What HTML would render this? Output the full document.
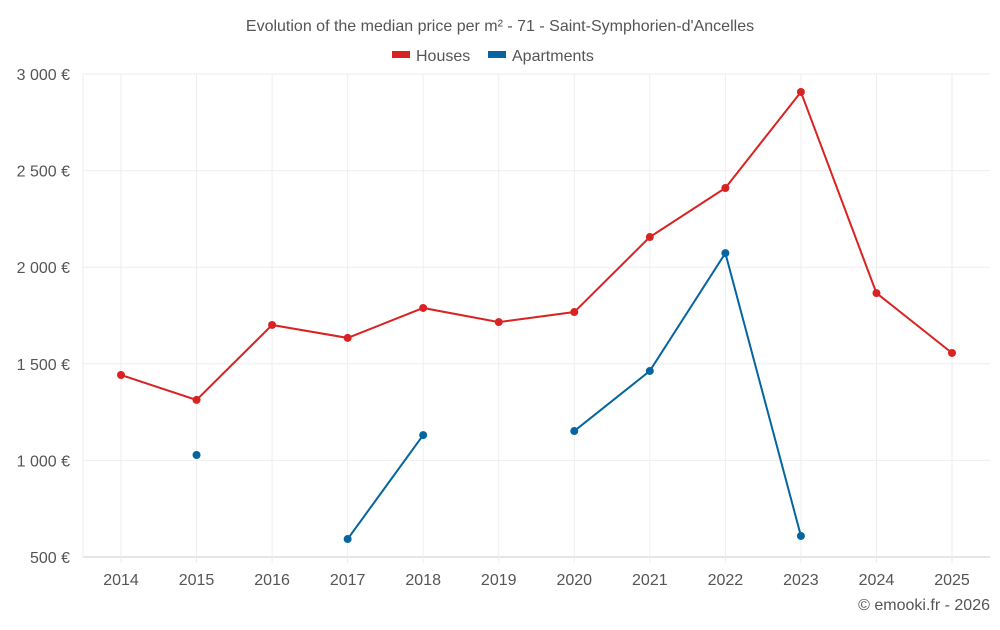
<!DOCTYPE html>
<html><head><meta charset="utf-8"><style>
body{margin:0;background:#fff;font-family:"Liberation Sans",sans-serif}
svg text{font-family:"Liberation Sans",sans-serif;fill:#555}
</style></head><body>
<svg id="c" width="1000" height="625">
<text x="500" y="31" text-anchor="middle" font-size="16">Evolution of the median price per m² - 71 - Saint-Symphorien-d'Ancelles</text>
<g>
<rect x="392" y="51" width="18" height="7" fill="#d92222"/>
<text x="416" y="61" font-size="16">Houses</text>
<rect x="488" y="51" width="18" height="7" fill="#0565a0"/>
<text x="512" y="61" font-size="16">Apartments</text>
</g>
<g id="grid"></g><g id="axes"></g><g id="series"></g>
<text x="990" y="610" text-anchor="end" font-size="16">© emooki.fr - 2026</text>
</svg>
<script>
const years=[2014,2015,2016,2017,2018,2019,2020,2021,2022,2023,2024,2025];
const houses=[1442,1313,1701,1634,1789,1716,1768,2156,2410,2907,1866,1556];
const apartments=[null,1028,null,593,1131,null,1152,1463,2073,609,null,null];
const yTicks=[500,1000,1500,2000,2500,3000];
const yLabels=["500 €","1 000 €","1 500 €","2 000 €","2 500 €","3 000 €"];
const L=83,R=990,T=74,B=557,ymin=500,ymax=3000;
const x=i=>121+i*(952-121)/(years.length-1);
const y=v=>B-(v-ymin)/(ymax-ymin)*(B-T);
const ns="http://www.w3.org/2000/svg";
function mk(tag,attrs,parent){const e=document.createElementNS(ns,tag);for(const k in attrs)e.setAttribute(k,attrs[k]);document.getElementById(parent).appendChild(e);return e;}
yTicks.forEach((t,i)=>{
 const g=mk('line',{x1:L,x2:R,y1:y(t),y2:y(t),stroke:i==0?'#ccc':'#eee'},'grid');
 
 
 const tx=mk('text',{x:70,y:y(t)+6,'text-anchor':'end','font-size':16},'axes');tx.textContent=yLabels[i];
 
 
});
const lb=mk('line',{x1:L,x2:L,y1:T,y2:B,stroke:'#eee'},'grid');


years.forEach((yr,i)=>{
 const g=mk('line',{x1:x(i),x2:x(i),y1:T,y2:B+6,stroke:'#eee'},'grid');
 
 
 const tx=mk('text',{x:x(i),y:585,'text-anchor':'middle','font-size':16},'axes');tx.textContent=yr;
 
 
});
function series(data,color,name){
 let d='',pen=false;
 data.forEach((v,i)=>{if(v==null){pen=false;return;}d+=(pen?'L':'M')+x(i)+' '+y(v)+' ';pen=true;});
 const p=mk('path',{d:d,fill:'none',stroke:color,'stroke-width':2},'series');
 
 
 data.forEach((v,i)=>{if(v==null)return;
  const c=mk('circle',{cx:x(i),cy:y(v),r:4,fill:color},'series');
  
  
 });
}
series(houses,'#d92222','houses');
series(apartments,'#0565a0','apartments');
</script>
</body></html>
